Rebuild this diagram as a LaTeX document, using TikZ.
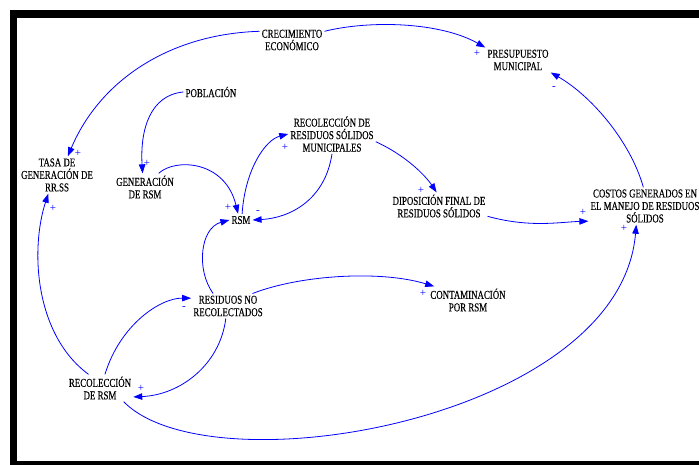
\documentclass[tikz,border=0pt]{standalone}
\usepackage{fontspec}
\newfontfamily\condfont[FakeStretch=0.74,FakeBold=0.3]{Liberation Serif}
\newfontfamily\signfont{Liberation Serif}
\usetikzlibrary{arrows.meta}
\begin{document}
\begin{tikzpicture}[
		x = 1pt, y = -1pt,
		var/.style = {align=center, inner sep=2pt, font=\condfont\fontsize{12}{12.5}\selectfont},
		lnk/.style = {draw=blue, line width=0.8pt, -{Triangle[length=9pt,width=6.5pt]}},
		sgn/.style = {text=blue, inner sep=0pt, font=\signfont\fontsize{11}{11}\selectfont}
		]
		\useasboundingbox (0,0) rectangle (699,465);
		\fill[black] (10,10) rectangle (699,465);
		\fill[white] (17,18) rectangle (699,461);
		
		\node[var] (crec)   at (292, 40) {CRECIMIENTO\\ECONÓMICO};
		\node[var] (pres)   at (518, 60) {PRESUPUESTO\\MUNICIPAL};
		\node[var] (pob)    at (211, 92) {POBLACIÓN};
		\node[var] (tasa)   at ( 57,175) {TASA DE\\GENERACIÓN DE\\RR.SS};
		\node[var] (gen)    at (145,187) {GENERACIÓN\\DE RSM};
		\node[var] (rsm)    at (241,220) {RSM};
		\node[var] (recres) at (332,134) {RECOLECCIÓN DE\\RESIDUOS SÓLIDOS\\MUNICIPALES};
		\node[var] (dispo)  at (439,206) {DIPOSICIÓN FINAL DE\\RESIDUOS SÓLIDOS};
		\node[var] (costos) at (645,206) {COSTOS GENERADOS EN\\EL MANEJO DE RESIDUOS\\SÓLIDOS};
		\node[var] (resno)  at (228,306) {RESIDUOS NO\\RECOLECTADOS};
		\node[var] (cont)   at (468,300) {CONTAMINACIÓN\\POR RSM};
		\node[var] (recrsm) at (100,388) {RECOLECCIÓN\\DE RSM};
		
		\draw[lnk] (crec.165) .. controls (170,34) and (100,80) .. (tasa.60);
		\draw[lnk] (crec.15) .. controls (370,20) and (440,22) .. (pres.north west);
		\draw[lnk] (pob.west) .. controls (150,95) and (140,130) .. (gen.100);
		\draw[lnk] (gen.45) .. controls (175,158) and (225,160) .. (rsm.115);
		\draw[lnk] (rsm.80) .. controls (245,170) and (265,140) .. (recres.west);
		\draw[lnk] (recres.south) .. controls (325,200) and (290,218) .. (rsm.east);
		\draw[lnk] (recres.350) .. controls (405,155) and (425,175) .. (dispo.100);
		\draw[lnk] (dispo.348) .. controls (530,228) and (560,222) .. (costos.195);
		\draw[lnk] (costos.95) .. controls (630,140) and (590,95) .. (pres.south east);
		\draw[lnk] (resno.140) .. controls (196,270) and (200,228) .. (rsm.west);
		\draw[lnk] (resno.27) .. controls (300,275) and (380,270) .. (cont.158);
		\draw[lnk] (recrsm.70) .. controls (120,325) and (160,298) .. (resno.168);
		\draw[lnk] (resno.260) .. controls (220,365) and (180,395) .. (recrsm.345);
		\draw[lnk] (recrsm.130) .. controls (35,335) and (30,250) .. (tasa.245);
		\draw[lnk] (recrsm.330) .. controls (210,490) and (620,420) .. (costos.245);
		
		\node[sgn] (s1)  at ( 78,153) {+};
		\node[sgn] (s2)  at (477, 53) {+};
		\node[sgn] (s3)  at (554, 88) {-};
		\node[sgn] (s4)  at (147,163) {+};
		\node[sgn] (s5)  at ( 53,208) {+};
		\node[sgn] (s6)  at (228,207) {+};
		\node[sgn] (s7)  at (258,212) {-};
		\node[sgn] (s8)  at (285,147) {+};
		\node[sgn] (s9)  at (421,190) {+};
		\node[sgn] (s10) at (583,212) {+};
		\node[sgn] (s11) at (624,228) {+};
		\node[sgn] (s12) at (423,293) {+};
		\node[sgn] (s13) at (184,308) {-};
		\node[sgn] (s14) at (141,388) {+};
	\end{tikzpicture}
\end{document}
